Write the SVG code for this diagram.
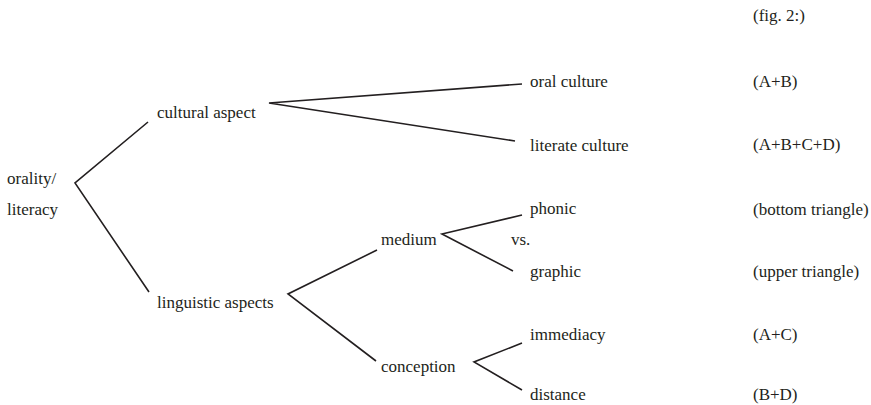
<svg xmlns="http://www.w3.org/2000/svg" width="871" height="405" viewBox="0 0 871 405">
  <style>
    text { font-family: "Liberation Serif", "DejaVu Serif", serif; font-size: 17px; fill: #231f20; }
    .edge { stroke: #231f20; stroke-width: 1.6; fill: none; stroke-linejoin: miter; }
  </style>
  <rect width="871" height="405" fill="#ffffff"/>

  <!-- branching connectors -->
  <g id="connectors">
    <polyline class="edge" points="148,122 75,183 149,292"/>
    <polyline class="edge" points="522,84 269,103 515,141"/>
    <polyline class="edge" points="377,250 288,294 376,361"/>
    <polyline class="edge" points="522,215 442,234 513,271"/>
    <polyline class="edge" points="522,343 474,362 522,390"/>
  </g>

  <g id="root">
    <text x="7" y="184">orality/</text>
    <text x="7" y="215">literacy</text>
  </g>
  <g id="cultural-aspect">
    <text x="157" y="118">cultural aspect</text>
  </g>
  <g id="linguistic-aspects">
    <text x="157" y="308">linguistic aspects</text>
  </g>
  <g id="oral-culture">
    <text x="530" y="87">oral culture</text>
  </g>
  <g id="literate-culture">
    <text x="530" y="151">literate culture</text>
  </g>
  <g id="medium">
    <text x="381" y="245">medium</text>
    <text x="511" y="245">vs.</text>
  </g>
  <g id="phonic">
    <text x="530" y="214">phonic</text>
  </g>
  <g id="graphic">
    <text x="530" y="277">graphic</text>
  </g>
  <g id="conception">
    <text x="381" y="372">conception</text>
  </g>
  <g id="immediacy">
    <text x="530" y="340">immediacy</text>
  </g>
  <g id="distance">
    <text x="530" y="400">distance</text>
  </g>

  <!-- right-hand annotations -->
  <g id="annotations">
    <text x="753" y="21">(fig. 2:)</text>
    <text x="753" y="87">(A+B)</text>
    <text x="753" y="150">(A+B+C+D)</text>
    <text x="753" y="215">(bottom triangle)</text>
    <text x="753" y="277">(upper triangle)</text>
    <text x="753" y="340">(A+C)</text>
    <text x="753" y="400">(B+D)</text>
  </g>
</svg>
